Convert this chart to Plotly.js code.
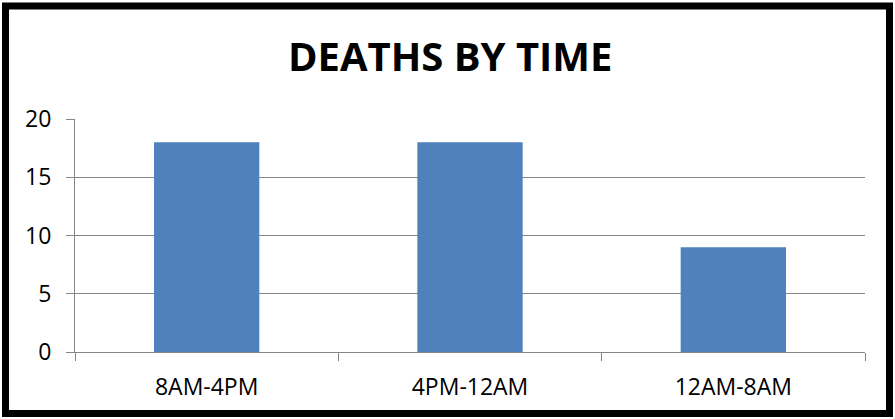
<!DOCTYPE html>
<html>
<head>
<meta charset="utf-8">
<script src="https://cdn.plot.ly/plotly-3.0.1.min.js"></script>
<style>
html,body{margin:0;padding:0;background:#fff;}
#chart{width:895px;height:419px;}
</style>
</head>
<body>
<div id="chart"></div>
<script>
const categories = ["8AM-4PM", "4PM-12AM", "12AM-8AM"];
const deaths = [18, 18, 9];
const yTicks = [0, 5, 10, 15, 20];
const chartTitle = "DEATHS BY TIME";

const L = 75, R = 30, T = 119, B = 67, W = 895, H = 419;
const pw = W - L - R, ph = H - T - B;
function px(x){ return (x - L) / pw; }
function py(y){ return (H - B - y) / ph; }

const trace = {
  type: 'bar',
  x: categories,
  y: deaths,
  marker: {color: '#4F81BD', line: {width: 0}},
  hoverinfo: 'x+y'
};

const layout = {
  width: W, height: H,
  margin: {l: L, r: R, t: T, b: B},
  paper_bgcolor: '#ffffff',
  plot_bgcolor: '#ffffff',
  bargap: 0.6,
  showlegend: false,
  font: {family: '"Open Sans", "Liberation Sans", sans-serif', color: '#000000'},
  title: {
    text: '<b>' + chartTitle + '</b>',
    font: {size: 40, family: '"Open Sans", sans-serif', color: '#000000'},
    x: 0.503, xref: 'container', xanchor: 'center',
    y: 1 - 57 / H, yref: 'container', yanchor: 'middle'
  },
  xaxis: {
    type: 'category',
    tickson: 'boundaries',
    ticks: 'outside', ticklen: 8, tickcolor: '#868686', tickwidth: 1,
    showline: true, linecolor: '#868686', linewidth: 1,
    showgrid: false, zeroline: false,
    tickfont: {size: 23, color: '#000000'},
    ticklabelstandoff: 14,
    fixedrange: true
  },
  yaxis: {
    range: [0, 20],
    tickvals: yTicks,
    ticktext: yTicks.map(String),
    ticks: 'outside', ticklen: 8, tickcolor: '#868686', tickwidth: 1,
    showline: true, linecolor: '#868686', linewidth: 1,
    showgrid: true, gridcolor: '#868686', gridwidth: 1,
    zeroline: false,
    tickfont: {size: 23, color: '#000000'},
    ticklabelstandoff: 10,
    fixedrange: true
  },
  shapes: [{
    type: 'rect', xref: 'paper', yref: 'paper',
    x0: px(5.5), x1: px(889.5), y0: py(413.5), y1: py(6),
    line: {color: '#000000', width: 7},
    fillcolor: 'rgba(0,0,0,0)',
    layer: 'above'
  }]
};

Plotly.newPlot('chart', [trace], layout, {displayModeBar: false, staticPlot: true});
</script>
</body>
</html>
